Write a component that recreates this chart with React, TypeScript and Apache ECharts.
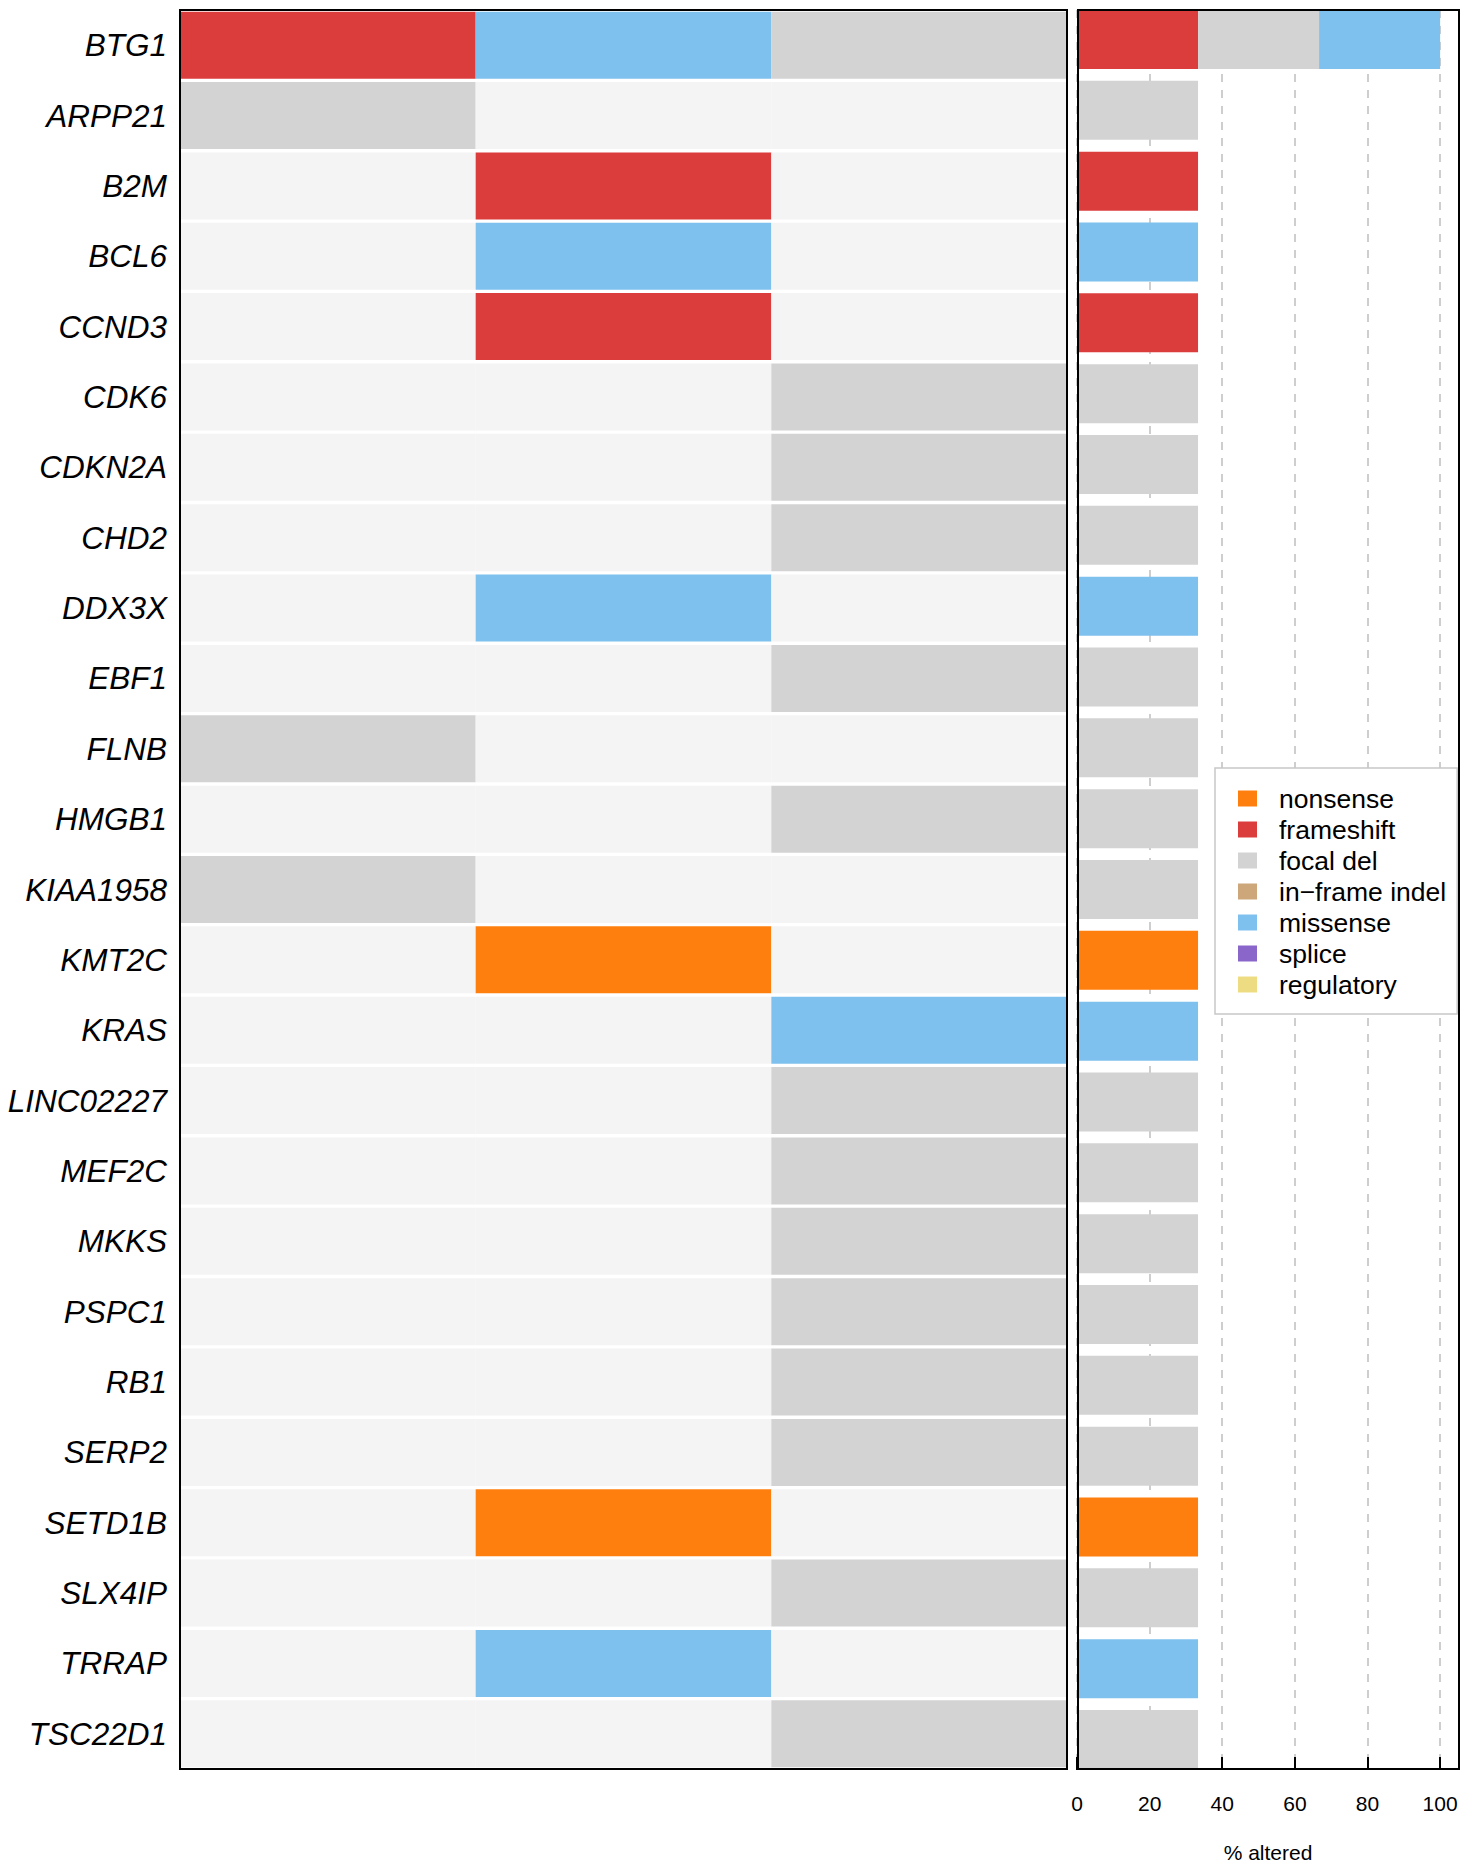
import React, { useEffect, useRef } from "react";
import * as echarts from "echarts";

const GENES = [
  "BTG1", "ARPP21", "B2M", "BCL6", "CCND3", "CDK6", "CDKN2A", "CHD2", "DDX3X",
  "EBF1", "FLNB", "HMGB1", "KIAA1958", "KMT2C", "KRAS", "LINC02227", "MEF2C",
  "MKKS", "PSPC1", "RB1", "SERP2", "SETD1B", "SLX4IP", "TRRAP", "TSC22D1",
];

// alteration per gene for each of the three samples ("" = none)
const SAMPLE_1 = [
  "frameshift", "focal del", "", "", "", "", "", "", "",
  "", "focal del", "", "focal del", "", "", "", "",
  "", "", "", "", "", "", "", "",
];
const SAMPLE_2 = [
  "missense", "", "frameshift", "missense", "frameshift", "", "", "", "missense",
  "", "", "", "", "nonsense", "", "", "",
  "", "", "", "", "nonsense", "", "missense", "",
];
const SAMPLE_3 = [
  "focal del", "", "", "", "", "focal del", "focal del", "focal del", "",
  "focal del", "", "focal del", "", "", "missense", "focal del", "focal del",
  "focal del", "focal del", "focal del", "focal del", "", "focal del", "", "focal del",
];
const SAMPLES = [SAMPLE_1, SAMPLE_2, SAMPLE_3];

const TYPES = ["nonsense", "frameshift", "focal del", "in\u2212frame indel", "missense", "splice", "regulatory"];
const TYPE_KEYS = ["nonsense", "frameshift", "focal del", "in-frame indel", "missense", "splice", "regulatory"];
const TYPE_COLORS = ["#FF7F0E", "#DB3D3D", "#D3D3D3", "#CDA77A", "#7FC1EE", "#8A66CB", "#EEDC82"];
const EMPTY_COLOR = "#F4F4F4";

const X_TICKS = [0, 20, 40, 60, 80, 100];

const FONT = "'Liberation Sans', Arial, Helvetica, sans-serif";

export default function App() {
  const ref = useRef<HTMLDivElement>(null);

  useEffect(() => {
    if (!ref.current) return;
    const chart = echarts.init(ref.current, undefined, { renderer: "svg" });

    const colorOf = (t: string) => {
      const i = TYPE_KEYS.indexOf(t);
      return i >= 0 ? TYPE_COLORS[i] : EMPTY_COLOR;
    };

    const cellSeries = SAMPLES.map((s, si) => ({
      name: "sample" + (si + 1),
      type: "bar",
      stack: "cells",
      xAxisIndex: 0,
      yAxisIndex: 0,
      barWidth: 67,
      silent: true,
      z: 2,
      data: s.map((t) => ({ value: 1, itemStyle: { color: colorOf(t) } })),
    }));

    const pctSeries = TYPE_KEYS.map((key, ti) => ({
      name: TYPES[ti],
      type: "bar",
      stack: "pct",
      xAxisIndex: 2,
      yAxisIndex: 2,
      barWidth: 59,
      silent: true,
      z: 3,
      itemStyle: { color: TYPE_COLORS[ti] },
      data: GENES.map((_, gi) => {
        let c = 0;
        SAMPLES.forEach((s) => {
          if (s[gi] === key) c++;
        });
        return (c / SAMPLES.length) * 100;
      }),
    }));

    const option: any = {
      animation: false,
      backgroundColor: "#ffffff",
      textStyle: { fontFamily: FONT },
      grid: [
        { left: 180, top: 10, width: 887, height: 1759 },
        { left: 1077, top: 10, width: 382, height: 1759 },
        { left: 1077, top: 4.1, width: 382, height: 1770.8 },
      ],
      xAxis: [
        { gridIndex: 0, type: "value", min: 0, max: 3, show: false },
        {
          gridIndex: 1,
          type: "value",
          min: 0,
          max: 105.2,
          interval: 20,
          axisLine: { show: false },
          splitLine: {
            show: true,
            lineStyle: { type: [8, 8], color: "#BEBEBE", width: 1.5 },
          },
          axisTick: {
            show: true,
            length: 13,
            customValues: X_TICKS,
            lineStyle: { color: "#000", width: 2 },
          },
          axisLabel: {
            customValues: X_TICKS,
            fontSize: 21,
            color: "#000",
            margin: 36,
            fontFamily: FONT,
          },
          name: "% altered",
          nameLocation: "middle",
          nameGap: 85,
          nameTextStyle: { fontSize: 21, color: "#000", fontFamily: FONT },
        },
        { gridIndex: 2, type: "value", min: 0, max: 105.2, show: false },
      ],
      yAxis: [
        {
          gridIndex: 0,
          type: "category",
          data: GENES,
          inverse: true,
          axisLine: { show: false },
          axisTick: { show: false },
          axisLabel: {
            fontSize: 31.5,
            fontStyle: "italic",
            color: "#000",
            margin: 13,
            fontFamily: FONT,
          },
        },
        { gridIndex: 1, type: "value", min: 0, max: 1, show: false },
        {
          gridIndex: 2,
          type: "category",
          data: GENES,
          inverse: true,
          show: false,
        },
      ],
      legend: {
        data: TYPES,
        orient: "vertical",
        left: 1215,
        top: 768,
        icon: "rect",
        itemWidth: 19,
        itemHeight: 16,
        itemGap: 4,
        padding: [17, 11, 16, 23],
        borderColor: "#C8C8C8",
        borderWidth: 1.5,
        backgroundColor: "#ffffff",
        selectedMode: false,
        z: 10,
        textStyle: {
          fontSize: 26.5,
          color: "#000",
          fontFamily: FONT,
          padding: [0, 0, 0, 17],
        },
      },
      graphic: [
        {
          type: "rect",
          z: 100,
          silent: true,
          shape: { x: 180, y: 10, width: 887, height: 1759 },
          style: { fill: "none", stroke: "#000", lineWidth: 2 },
        },
        {
          type: "rect",
          z: 100,
          silent: true,
          shape: { x: 1078, y: 10, width: 381, height: 1759 },
          style: { fill: "none", stroke: "#000", lineWidth: 2 },
        },
      ],
      series: [...cellSeries, ...pctSeries],
    };

    chart.setOption(option);
    return () => chart.dispose();
  }, []);

  return (
    <div
      ref={ref}
      style={{ position: "absolute", left: 0, top: 0, width: 1474, height: 1868 }}
    />
  );
}
